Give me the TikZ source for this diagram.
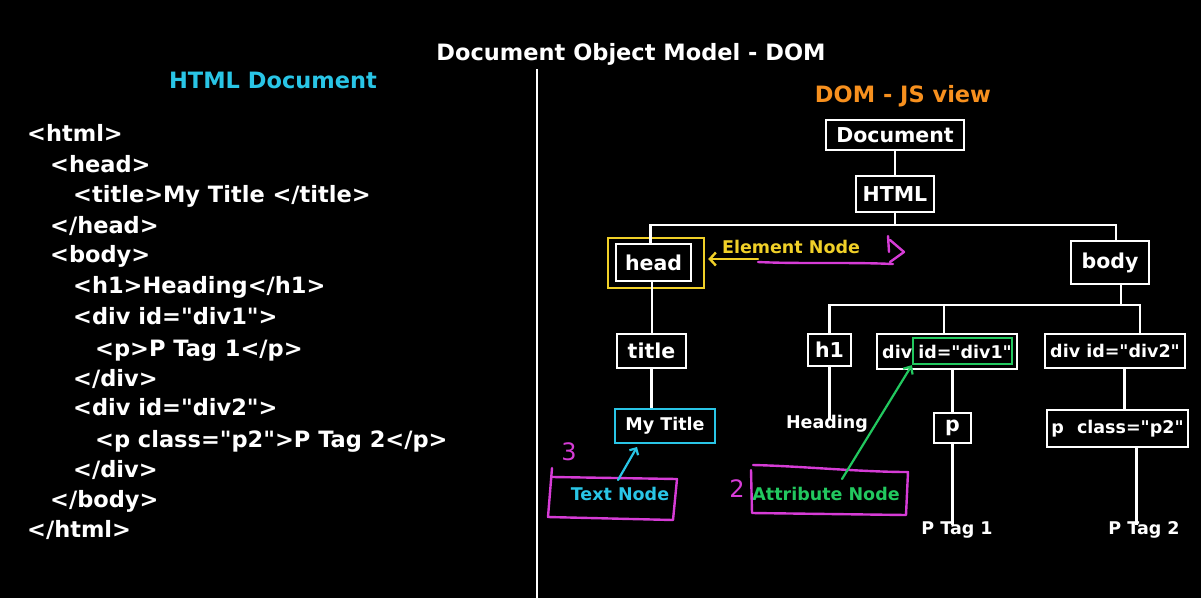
\documentclass[tikz,border=0pt]{standalone}
\usepackage{fontspec}
\setmainfont{DejaVu Sans}[Ligatures=TeXOff]
\usetikzlibrary{arrows.meta}
\newcommand\fsz[1]{\fontsize{#1}{#1}\selectfont\bfseries}
\newcommand\qq{"}
\definecolor{cyanT}{RGB}{41,197,230}
\definecolor{orangeT}{RGB}{247,144,30}
\definecolor{yellowA}{RGB}{240,208,40}
\definecolor{magA}{RGB}{214,60,214}
\definecolor{greenA}{RGB}{34,200,95}
\tikzset{
  code/.style={anchor=base west, text=white, font=\fsz{22.5}, inner sep=0pt},
  tbox/.style={draw=white, line width=2.2pt, text=white, inner sep=0pt, font=\fsz{20.5}},
  sbox/.style={tbox, font=\fsz{17.5}},
  leaf/.style={text=white, inner sep=0pt, font=\fsz{17.5}},
  wire/.style={white, line width=2.2pt},
  hand/.style={line width=2.4pt, line cap=round, line join=round},
  ann/.style={inner sep=0pt, font=\fsz{17.5}},
}
\begin{document}
\begin{tikzpicture}[x=1pt,y=-1pt]
\fill[black] (0,0) rectangle (1201,598);
\useasboundingbox (0,0) rectangle (1201,598);

% titles
\node[anchor=base, text=white, font=\fsz{22.5}, inner sep=0pt] (ttl) at (631,60) {Document Object Model - DOM};
\node[anchor=base, text=cyanT, font=\fsz{22.5}, inner sep=0pt] (htmldoc) at (273,88) {HTML Document};
\node[anchor=base, text=orangeT, font=\fsz{22.5}, inner sep=0pt] (jsview) at (903,102) {DOM - JS view};

% divider
\coordinate (dv1) at (537,69);
\coordinate (dv2) at (537,598);
\draw[wire] (dv1) -- (dv2);

% code listing
\node[code] (c1) at (27,141) {<html>};
\node[code] (c2) at (50,172) {<head>};
\node[code] (c3) at (73,202) {<title>My Title </title>};
\node[code] (c4) at (50,233) {</head>};
\node[code] (c5) at (50,262) {<body>};
\node[code] (c6) at (73,293) {<h1>Heading</h1>};
\node[code] (c7) at (73,324) {<div id=\qq div1\qq>};
\node[code] (c8) at (95,356) {<p>P Tag 1</p>};
\node[code] (c9) at (73,386) {</div>};
\node[code] (c10) at (73,415) {<div id=\qq div2\qq>};
\node[code] (c11) at (95,447) {<p class=\qq p2\qq>P Tag 2</p>};
\node[code] (c12) at (73,477) {</div>};
\node[code] (c13) at (50,507) {</body>};
\node[code] (c14) at (27,537) {</html>};

% tree nodes
\node[tbox, minimum width=138, minimum height=30] (doc) at (895,135) {Document};
\node[tbox, minimum width=78, minimum height=36] (html) at (895,194) {HTML};
\node[tbox, minimum width=75, minimum height=37] (head) at (653.5,262.5) {head};
\node[draw=yellowA, line width=2.4pt, minimum width=96, minimum height=50, inner sep=0pt] (headY) at (656,263) {};
\node[tbox, minimum width=78, minimum height=43] (body) at (1110,262.5) {body};
\node[tbox, minimum width=69, minimum height=34] (title) at (651.5,351) {title};
\node[sbox, draw=cyanT, minimum width=100, minimum height=34] (mytitle) at (665,426) {My Title};
\node[tbox, minimum width=43, minimum height=32] (h1) at (829.5,350) {h1};
\node[sbox, minimum width=140, minimum height=35] (div1) at (947,351.5) {div id=\qq div1\qq};
\node[draw=greenA, line width=2.2pt, minimum width=99, minimum height=26, inner sep=0pt] (div1attr) at (962.5,351) {};
\node[sbox, minimum width=140, minimum height=34] (div2) at (1115,351) {div id=\qq div2\qq};
\node[leaf] (heading) at (827,424) {Heading};
\node[tbox, minimum width=37, minimum height=30] (p) at (952.5,428) {p};
\node[sbox, minimum width=141, minimum height=37] (pclass) at (1117.5,428.5) {p\hspace{0.4em} class=\qq p2\qq};
\node[leaf, anchor=base] (ptag1) at (957,534) {P Tag 1};
\node[leaf, anchor=base] (ptag2) at (1144,534) {P Tag 2};

% connectors
\coordinate (bus1) at (895,225);
\coordinate (bus2) at (900,305);
\draw[wire] (doc) -- (html);
\draw[wire] (html.south) -- (html.south |- bus1);
\draw[wire] ([xshift=-3]head.north) -- ([xshift=-3]head.north |- bus1) -- ([xshift=6]body.north |- bus1) -- ([xshift=6]body.north);
\draw[wire] ([xshift=11]body.south) -- ([xshift=11]body.south |- bus2);
\draw[wire] (h1.north) -- (h1.north |- bus2) -- ([xshift=25]div2.north |- bus2) -- ([xshift=25]div2.north);
\draw[wire] ([xshift=-3]div1.north) -- ([xshift=-3]div1.north |- bus2);
\draw[wire] ([xshift=-1.5]head.south) -- ([xshift=-1.5]head.south |- title.north);
\draw[wire] (title.south) -- (title.south |- mytitle.north);
\draw[wire] (h1.south) -- ([yshift=-4]h1.south |- heading.north);
\draw[wire] (p.north |- div1.south) -- (p.north);
\draw[wire] (p.south) -- ([yshift=-4]p.south |- ptag1.north);
\draw[wire] ([xshift=7]pclass.north |- div2.south) -- ([xshift=7]pclass.north);
\draw[wire] ([xshift=19]pclass.south) -- ([xshift=19,yshift=-4]pclass.south |- ptag2.north);

% Element node annotation
\node[ann, text=yellowA, anchor=base] (elem) at (791,253) {Element Node};
\coordinate (ea) at (758,259);
\draw[hand, yellowA, -{Straight Barb[length=6pt,width=13pt]}] (ea) -- ([xshift=3]headY.east |- ea);
\coordinate (mu1) at (758,262);
\coordinate (mu2) at (893,264);
\draw[hand, magA] (mu1) .. controls (800,264) and (850,262) .. (mu2);
\coordinate (one1) at (888,236);
\coordinate (one2) at (889,252);
\draw[hand, magA] (one1) -- (one2);
\draw[hand, magA] (890,240) -- (904,252) -- (890,262);

% Text node annotation
\node[ann, text=cyanT] (textnode) at (620,494) {Text Node};
\draw[hand, magA] (552,468) -- (548,517) -- (673,520) -- (677,479) -- (553,477);
\node[inner sep=0pt, text=magA, font=\fontsize{24}{24}\selectfont] (three) at (569,452) {3};
\coordinate (ta) at (618,480);
\coordinate (tb) at (637,447);
\draw[hand, cyanT, line width=2.2pt, -{Straight Barb[length=5pt,width=10pt]}] (ta) -- (tb);

% Attribute node annotation
\node[ann, text=greenA] (attrnode) at (826,494) {Attribute Node};
\draw[hand, magA] (753,465) .. controls (800,466) and (860,472) .. (908,472) -- (906,515) -- (752,513) -- (751,470);
\node[inner sep=0pt, text=magA, font=\fontsize{24}{24}\selectfont] (two) at (737,489) {2};
\coordinate (ga) at (842,479);
\draw[hand, greenA, line width=2.2pt, -{Straight Barb[length=6pt,width=11pt]}] (ga) -- (div1attr.south west);
\end{tikzpicture}
\end{document}
